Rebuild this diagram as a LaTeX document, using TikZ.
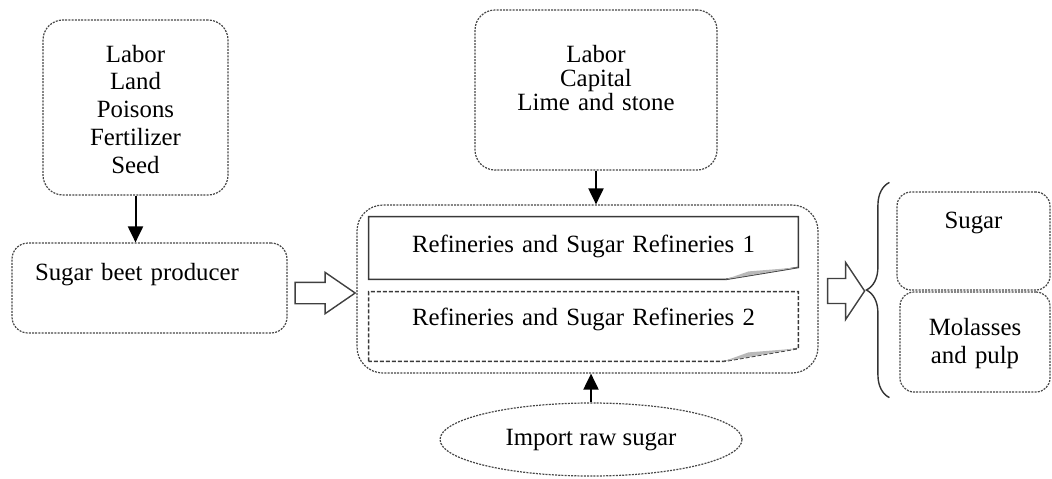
\documentclass[tikz,border=0pt]{standalone}
\usepackage{fontspec}
\setmainfont{Liberation Serif}
\usetikzlibrary{shapes.geometric, shapes.arrows, arrows.meta, decorations.pathreplacing, calc}

\begin{document}
\begin{tikzpicture}[
        x=0.5pt, y=-0.5pt,
        font=\fontsize{12.4}{13.5}\selectfont,
        dotline/.style={draw=gray!55!black, dash pattern=on 1pt off 0.6pt, line width=0.6pt},
        box/.style={rectangle, dotline, rounded corners=#1, align=center, text height=9pt},
        box/.default=10pt,
        oval/.style={ellipse, dotline, text height=9pt},
        leading/.style={font=\fontsize{12.4}{#1}\selectfont},
        doc/.style={rectangle, align=center, text width=200pt, text height=9pt},
        docline/.style={line width=0.8pt, draw=gray!45!black},
        fold/.style={fill=gray!55},
        arrow/.style={-{Triangle[length=8pt, width=7.5pt]}, line width=1pt},
        hollow/.style={single arrow, draw=black!75, line width=0.7pt, inner sep=0pt, fill=white},
        hollowline/.style={draw=black!75, line width=0.7pt, fill=white},
        brace/.style={decorate, decoration={brace, amplitude=11.5pt}, line width=0.7pt, draw=black!80}
    ]
    \useasboundingbox (0,0) rectangle (1052,478);

    % inputs and farm
    \node[box, leading=13.9pt, minimum width=92.5pt, minimum height=87.5pt, text width=80pt, text depth=54.5pt] (inA) at (135.5,107.5) {Labor\\Land\\Poisons\\Fertilizer\\Seed};
    \node[box=8pt, minimum width=137.5pt, minimum height=45pt, text width=114.5pt, align=left, text depth=17pt] (prod) at (149.5,288) {Sugar beet producer};

    % refineries
    \node[box, leading=12pt, minimum width=121pt, minimum height=80pt, text width=110pt, text depth=37pt] (inB) at (596,90) {Labor\\Capital\\Lime and stone};
    \node[box=13pt, minimum width=230.5pt, minimum height=84pt] (cont) at (587.5,289) {};
    \node[doc, minimum width=214.5pt, minimum height=31pt, text depth=5pt] (ref1) at (583.5,248) {Refineries and Sugar Refineries 1};
    \node[doc, minimum width=214.5pt, minimum height=34.5pt, text depth=10.5pt] (ref2) at (583.5,326.5) {Refineries and Sugar Refineries 2};
    \node[oval, minimum width=151pt, minimum height=36.5pt, text depth=3.5pt] (imp) at (591,439.5) {Import raw sugar};

    % outputs
    \node[box=7pt, minimum width=76.5pt, minimum height=49pt, text width=65pt, text depth=22pt] (sugar) at (973.5,241) {Sugar};
    \node[box=7pt, leading=14pt, minimum width=75pt, minimum height=50pt, text width=65pt, text depth=16pt] (mol) at (975,342) {Molasses\\and pulp};

    % folded sheets
    \draw[docline] (ref1.south west) -- (ref1.north west) -- (ref1.north east) -- ([yshift=6pt]ref1.south east) -- ([xshift=-36.5pt]ref1.south east) -- cycle;
    \fill[fold] ([xshift=-36.5pt]ref1.south east) -- ([yshift=6pt]ref1.south east) -- ([xshift=-25pt, yshift=4pt]ref1.south east) -- cycle;
    \draw[docline, dash pattern=on 2pt off 1pt] (ref2.south west) -- (ref2.north west) -- (ref2.north east) -- ([yshift=6.5pt]ref2.south east) -- ([xshift=-37.5pt]ref2.south east) -- cycle;
    \fill[fold] ([xshift=-37.5pt]ref2.south east) -- ([yshift=6.5pt]ref2.south east) -- ([xshift=-25pt, yshift=4.5pt]ref2.south east) -- cycle;

    \draw[arrow] (inA) -- (inA |- prod.north);
    \draw[arrow] (inB) -- (inB |- cont.north);
    \draw[arrow] (imp) -- (imp |- cont.south);

    \node[hollow, minimum height=30pt, text height=5pt, text depth=5pt, single arrow head extend=5pt, single arrow tip angle=69, anchor=tip] (push1) at ([yshift=-2pt]cont.west) {};
    % stubby arrow into the outputs
    \coordinate (push2) at ([xshift=4.5pt, yshift=-1pt]cont.east);
    \draw[hollowline] (push2) ++(0pt,6.25pt) -- ++(9pt,0pt) -- ++(0pt,8pt) -- ++(9.5pt,-14.25pt) -- ++(-9.5pt,-14.25pt) -- ++(0pt,8pt) -- ++(-9pt,0pt) -- cycle;

    \coordinate (brtop) at ([xshift=-3.5pt, yshift=4.5pt]sugar.north west);
    \coordinate (brbot) at ($(brtop |- mol.south)+(0,5)$);
    \draw[brace] (brbot) -- (brtop);
\end{tikzpicture}
\end{document}
